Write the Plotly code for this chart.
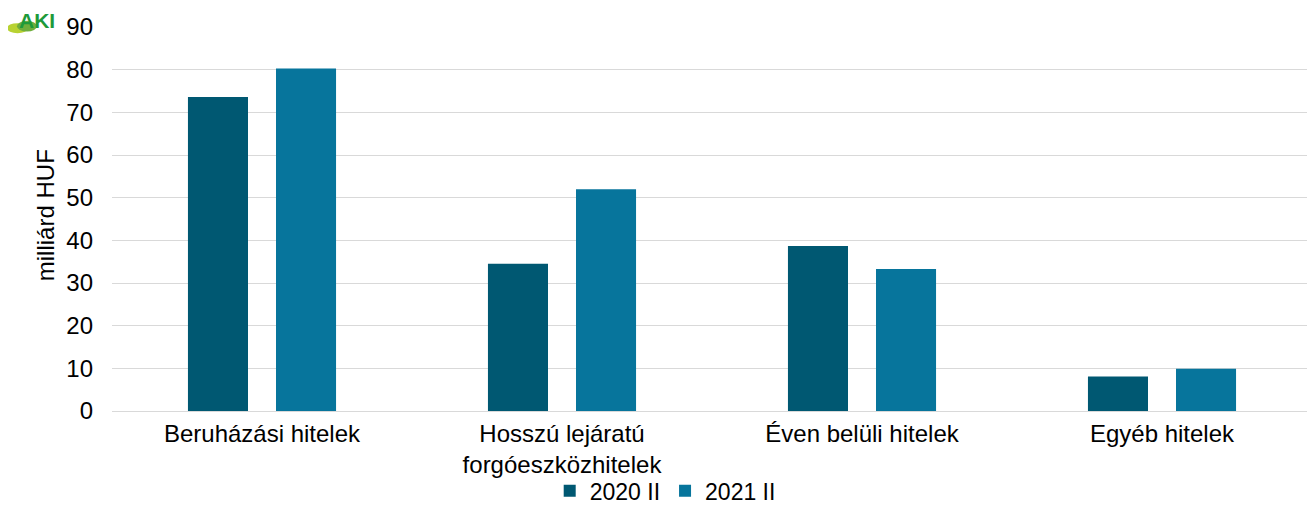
import plotly.graph_objects as go

categories = ["Beruházási hitelek", "Hosszú lejáratú<br>forgóeszközhitelek", "Éven belüli hitelek", "Egyéb hitelek"]
series_names = ["2020 II", "2021 II"]
values_2020 = [73.6, 34.5, 38.7, 8.1]
values_2021 = [80.3, 52.0, 33.3, 9.9]
colors = ["#005872", "#07759C"]

fig = go.Figure()
for name, vals, col in zip(series_names, [values_2020, values_2021], colors):
    fig.add_trace(go.Bar(x=categories, y=vals, name=name, marker=dict(color=col, line=dict(width=0))))

font = "Liberation Sans, Arial, sans-serif"
fig.update_layout(
    width=1307, height=497,
    margin=dict(l=104, r=3, t=19, b=94, autoexpand=False),
    paper_bgcolor="white", plot_bgcolor="white",
    barmode="group", bargap=0.413, bargroupgap=0.318,
    font=dict(family=font, size=24, color="#000000"),
    legend=dict(orientation="h", x=0.461, xanchor="center", y=-0.208, yanchor="middle",
                font=dict(size=23), itemwidth=30, traceorder="normal",
                bgcolor="rgba(0,0,0,0)"),
    yaxis=dict(range=[0, 90], dtick=10, showgrid=True, gridcolor="#d9d9d9", gridwidth=1,
               zeroline=False, showline=False, ticks="", ticklabelstandoff=18),
    xaxis=dict(showline=True, linecolor="#d9d9d9", linewidth=1, ticks="", showgrid=False,
               ticklabelstandoff=1),
    showlegend=True,
)

fig.add_annotation(text="milliárd HUF", xref="paper", yref="paper", x=-0.0558, y=0.51,
                   textangle=-90, showarrow=False, xanchor="center", yanchor="middle",
                   font=dict(family=font, size=24, color="#000000"))

# logo
fig.add_shape(type="circle", xref="paper", yref="paper", x0=-0.0875, x1=-0.0700, y0=0.984, y1=1.010,
              fillcolor="#B8D232", line=dict(width=0), layer="above")
fig.add_shape(type="circle", xref="paper", yref="paper", x0=-0.0792, x1=-0.0625, y0=0.988, y1=1.016,
              fillcolor="#6FAE3C", line=dict(width=0), layer="above")
fig.add_annotation(text="<b>AKI</b>", xref="paper", yref="paper", x=-0.0625, y=1.052,
                   xanchor="center", yanchor="top", showarrow=False,
                   font=dict(family=font, size=21, color="#1E9A3A"))

fig.write_html("out.html")
